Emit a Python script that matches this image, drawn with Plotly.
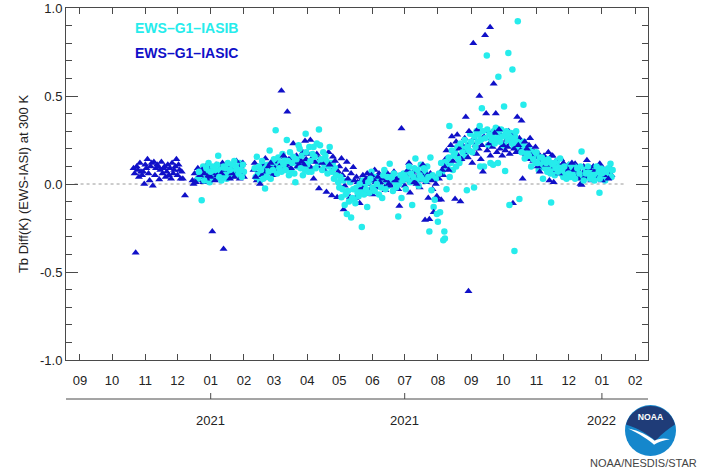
import base64

import pandas as pd
import plotly.graph_objects as go

# Days are counted from 1 September 2020
EPOCH = "2020-09-01"

# EWS-G1 minus IASI-C brightness-temperature difference (K) at 300 K
iasic_day = [
    50, 51, 52, 53, 54, 55, 56, 57, 58, 59, 60, 61, 62, 63, 64, 65, 66, 67, 68, 69,
    70, 71, 72, 73, 74, 75, 76, 77, 78, 79, 80, 81, 82, 83, 84, 85, 86, 87, 88, 89,
    90, 91, 92, 93, 94, 95, 96, 98,
    105, 106, 107, 108, 109, 110, 111, 112, 113, 114, 115, 116, 117, 118, 119, 120,
    121, 122, 123.5, 124, 125, 126, 127, 128, 129, 130, 131, 132, 133, 134, 135, 136,
    137, 138, 139, 140, 141, 142, 143, 144, 145, 146, 147, 148, 149, 150, 151, 152, 153,
    162, 163, 164, 165, 166, 167, 168, 169, 170, 171, 172, 173, 174, 175, 176, 177,
    178, 179, 180, 181, 182, 183, 184, 185, 186, 187, 188, 189, 190, 191, 192, 193,
    193.5, 194, 195, 196, 197, 198, 199, 200, 201, 202, 203, 204, 205, 206, 207, 208,
    209, 210, 211, 212, 213, 214, 215, 216, 217, 218, 219, 220, 221, 222, 223, 224,
    226, 228, 230, 232, 233, 235, 236, 237, 238, 240, 241, 242, 244, 245, 246, 247,
    248, 249, 250, 252, 253, 255, 256, 257, 258, 259, 261,
    262, 263, 264, 265, 266, 267, 267.5, 268, 269, 270, 271, 272, 273, 274, 275, 276,
    277, 278, 279, 280, 281, 282, 283, 284, 285, 286, 287, 288, 289, 290, 291, 292,
    293, 294, 295, 296, 297, 298, 299, 300, 301, 302, 303, 304, 305, 306, 307, 308,
    309, 310, 311, 312, 313, 314, 315, 316, 317, 318, 319, 320, 321, 322, 323, 324,
    325, 326, 327, 328, 329, 330, 331, 332, 333, 334, 335, 336, 337, 338, 339, 340, 341,
    342, 343, 344, 345, 346, 347, 348, 349, 350, 351, 352, 353, 354, 355, 356, 357,
    358, 359, 360, 361, 362, 362.5, 363, 364, 365, 366, 367, 368, 369, 370, 371, 372,
    372.7, 373, 374, 375, 376, 377, 378, 379, 380, 381, 382, 382.7, 383, 384, 385, 386,
    387, 388, 389, 390, 391, 392, 393, 394, 395, 396, 397, 398, 399, 400, 401, 402,
    403, 404, 405, 406, 407, 408, 409, 410, 411, 412, 413, 414, 415, 416, 417, 418,
    419, 420, 421, 422, 423, 424, 425,
    426, 427, 428, 429, 430, 431, 432, 433, 434, 435, 436, 437, 438, 439, 440, 441,
    442, 443, 444, 445, 446, 447, 448, 449, 450, 451, 452, 453, 454, 455, 456, 457,
    458, 459, 460, 461, 462, 463, 464, 465, 466, 467, 468, 469, 470, 471, 472, 473,
    474, 475, 476, 477, 478, 479, 480, 481, 482, 483, 484, 485, 486, 487, 488, 489,
    490, 491, 492, 493, 494, 495, 496,
]
iasic_tb = [
    0.09, 0.06, -0.39, 0.10, 0.08, 0.04, 0.12, 0.07, 0.05, 0.07, 0.00, 0.11, 0.09, 0.14, 0.06, 0.02, 0.10, 0.12, -0.01, 0.125,
    0.05, 0.09, 0.11, 0.10, 0.025, 0.08, 0.125, 0.06, 0.09, 0.10, 0.04, 0.07, 0.11, 0.05, 0.09, 0.03, 0.12, 0.06, 0.08, 0.10,
    0.14, 0.05, 0.11, 0.08, 0.03, 0.07, 0.03, -0.065,
    0.02, 0.00, 0.06, 0.01, 0.03, 0.09, 0.02, 0.05, 0.04, 0.08, 0.01, 0.06, 0.10, 0.03, 0.07, 0.05,
    0.09, 0.04, -0.27, 0.06, 0.08, 0.02, 0.11, 0.05, 0.07, 0.03, 0.09, 0.06, 0.12, -0.37, 0.04, 0.08,
    0.05, 0.10, 0.07, 0.03, 0.09, 0.06, 0.11, 0.04, 0.08, 0.13, 0.05, 0.07, 0.03, 0.10, 0.06, 0.12, 0.04,
    0.08, 0.12, 0.04, 0.02, 0.10, 0.06, 0.00, 0.09, 0.05, 0.11, 0.07, 0.145, 0.04, 0.07, 0.10, 0.06,
    0.12, 0.09, 0.05, 0.08, 0.09, 0.11, 0.08, 0.13, 0.10, 0.07, 0.53, 0.12, 0.16, 0.15, 0.10, 0.13,
    0.41, 0.11, 0.14, 0.12, 0.09, 0.15, 0.23, 0.12, 0.125, 0.16, 0.10, 0.14, 0.105, 0.13, 0.125, 0.18,
    0.11, 0.245, 0.14, 0.12, 0.17, 0.10, 0.25, 0.09, 0.15, 0.03, 0.125, 0.16, 0.17, 0.10, -0.025, 0.14,
    0.12, 0.08, -0.045, 0.18, 0.11, -0.065, 0.155, 0.09, 0.13, -0.075, 0.07, 0.10, 0.145, 0.05, -0.145, -0.01,
    0.08, 0.125, 0.03, -0.075, 0.06, 0.095, 0.02, -0.08, 0.04, 0.01, -0.11,
    0.02, -0.02, 0.05, 0.01, -0.04, 0.03, -0.055, 0.06, 0.00, 0.04, -0.03, 0.05, -0.06, 0.02, 0.08, 0.01,
    -0.02, 0.04, 0.06, 0.01, -0.01, 0.03, 0.05, -0.02, -0.035, 0.02, 0.06, 0.00, 0.03, -0.01, 0.05, 0.04,
    0.07, 0.02, -0.02, 0.03, -0.03, -0.125, 0.01, 0.315, 0.04, 0.02, -0.01, 0.05, 0.03, 0.08, 0.12, -0.05,
    0.02, 0.06, 0.04, 0.01, 0.07, 0.00, 0.03, 0.05, -0.02, 0.06, 0.02, 0.11, 0.04, -0.205, 0.01, 0.05,
    -0.08, -0.20, 0.06, 0.02, -0.03, -0.16, 0.04, 0.00, -0.07, -0.09, 0.03, 0.06, -0.09, 0.08, 0.05, 0.10, 0.14,
    0.19, 0.12, 0.08, 0.135, 0.22, 0.27, 0.13, 0.17, -0.085, 0.24, 0.28, 0.16, 0.20, -0.10, 0.14, 0.22,
    0.18, 0.26, 0.38, 0.21, 0.15, -0.61, 0.30, 0.19, 0.24, 0.12, 0.80, 0.26, 0.22, 0.17, 0.31, 0.20,
    0.50, 0.25, 0.14, 0.22, 0.07, 0.27, 0.845, 0.40, 0.19, 0.30, 0.23, 0.89, 0.16, 0.26, 0.21, 0.57,
    0.29, 0.40, 0.18, 0.24, 0.31, 0.20, 0.27, 0.16, 0.22, 0.28, 0.19, 0.25, 0.21, 0.30, 0.17, 0.23,
    0.27, -0.11, 0.20, 0.25, 0.18, 0.38, 0.22, 0.26, 0.19, 0.36, 0.03, 0.21, 0.24, 0.17, 0.20, 0.14,
    0.22, 0.26, 0.16, 0.19, 0.13, 0.18, 0.21,
    0.15, 0.10, 0.17, 0.07, 0.12, 0.14, 0.09, 0.16, 0.09, 0.11, 0.13, 0.18, 0.02, 0.12, 0.16, 0.16,
    0.01, 0.10, 0.13, 0.08, 0.11, 0.06, 0.07, 0.14, 0.09, 0.12, 0.05, 0.10, 0.06, 0.08, 0.11, 0.04,
    0.09, 0.12, 0.06, 0.08, 0.115, 0.05, 0.09, 0.03, 0.07, 0.00, -0.005, 0.06, 0.10, 0.04, 0.08, 0.135,
    0.05, 0.09, 0.05, 0.02, 0.07, 0.10, 0.04, 0.08, 0.06, 0.03, 0.04, 0.115, 0.07, 0.02, 0.09, 0.05,
    0.08, 0.07, 0.04, 0.03, 0.06, 0.09, 0.05,
]

# EWS-G1 minus IASI-B brightness-temperature difference (K) at 300 K
iasib_day = [
    110, 111, 112, 113.6, 115, 116, 117, 118, 119, 120, 121, 122, 123, 124, 125, 126,
    127, 128, 129, 130, 131, 132, 133, 134, 135, 136, 137, 138, 139, 140, 141, 142,
    143, 144, 145, 146, 147, 148, 149, 150, 151, 152, 153,
    163, 164, 165, 166, 167, 168, 169, 170, 171, 172, 172.7, 173, 174, 175, 176, 177,
    178, 179, 180, 181, 182.6, 183, 184, 185, 186, 187, 188, 189, 190, 191, 192, 193,
    194, 195, 196, 197, 198, 199, 200, 201, 202, 203, 204, 205, 206, 207, 208, 209,
    210, 210.6, 211, 212, 213, 214, 215, 216, 217, 218, 219, 220, 221, 222, 223, 224,
    225, 226, 227, 228, 229, 230, 231, 232, 233, 234, 235, 236, 237, 238, 239, 240,
    241, 242, 243, 244, 245, 246, 247, 248, 249, 250, 251, 252, 253, 254, 255, 256,
    257, 258, 259, 260, 261,
    262, 263, 264, 265, 266, 267, 268, 269, 270, 271, 272, 273, 274, 275, 276, 277,
    278, 279, 280, 281, 282, 283, 284, 285, 286, 287, 288, 289, 290, 291, 292, 293,
    294, 295, 296, 297, 298, 299, 300, 301, 302, 303, 304, 305, 306, 307, 308, 309,
    310, 311, 312, 313, 314, 315, 316, 317, 318, 319, 320, 321, 322, 323, 324, 325,
    326, 327, 328, 329, 330, 331, 332, 333, 334, 335, 336, 337, 338, 339, 340, 340.5, 341,
    342, 343, 344, 344.7, 345, 346, 347, 348, 349, 350, 351, 352, 353, 354, 355, 356,
    357, 358, 359, 360, 361, 362, 363, 364, 365, 366, 367.7, 368, 369, 370, 371, 372,
    373, 373.5, 374, 375, 376, 377, 378, 379.6, 380, 381, 382, 383, 384, 385, 385.5, 386,
    387, 388, 389, 390, 390.4, 391, 392, 393, 394, 395, 395.7, 396, 396.7, 397, 398, 399,
    399.7, 400.7, 401, 402, 403, 403.5, 404, 405, 405.4, 406, 407, 408, 408.5, 409, 410, 411,
    412, 413, 413.8, 414, 415, 416, 417, 418, 419, 420, 421, 422, 423, 424, 425,
    426, 427, 428, 429, 430, 431, 432, 433, 434, 435, 436, 437, 438, 439, 439.6, 440,
    441, 442, 443, 444, 445, 446, 447, 448, 449, 450, 451, 452, 453, 454, 455, 456,
    457, 458, 459, 460, 461, 462, 463, 464, 465, 466, 467, 468, 469, 470, 471, 472,
    473, 474, 475, 476, 477, 478, 479, 480, 481, 482, 483, 484, 484.7, 485, 486, 487,
    488, 489, 490, 491, 492, 493, 494, 495, 496, 497,
]
iasib_tb = [
    0.03, 0.07, 0.05, -0.093, 0.10, 0.02, 0.06, 0.09, 0.04, 0.12, 0.01, 0.07, 0.05, 0.10, 0.03, 0.08,
    0.06, 0.11, 0.16, 0.04, 0.08, 0.02, 0.07, 0.10, 0.05, 0.09, 0.03, 0.12, 0.06, 0.08, 0.04, 0.11,
    0.07, 0.13, 0.05, 0.09, 0.10, 0.06, 0.12, 0.08, 0.04, 0.11, 0.07,
    0.09, 0.04, 0.155, 0.06, 0.10, 0.02, 0.08, 0.13, 0.03, 0.05, -0.025, 0.09, 0.04, 0.11, 0.07, 0.19,
    0.03, 0.12, 0.08, 0.14, 0.305, 0.10, 0.06, 0.15, 0.09, 0.12, 0.07, 0.17, 0.11, 0.135, 0.08, 0.25,
    0.13, 0.05, 0.18, 0.08, 0.12, 0.155, 0.06, 0.01, 0.14, 0.10, 0.22, 0.20, 0.09, 0.16, 0.05, 0.12,
    0.08, 0.285, 0.18, 0.11, 0.07, 0.21, 0.13, 0.07, 0.17, 0.21, 0.155, 0.09, 0.23, 0.12, 0.31, 0.22,
    0.14, 0.08, 0.18, 0.11, 0.16, 0.13, 0.06, 0.10, 0.21, 0.12, 0.07, 0.12, 0.03, 0.09, 0.05, 0.05,
    0.01, -0.02, 0.04, -0.075, -0.03, 0.02, -0.12, -0.06, -0.17, -0.04, -0.10, 0.01, -0.19, -0.08, -0.03, -0.09,
    -0.11, -0.02, -0.05, -0.07, 0.00,
    -0.04, -0.245, 0.02, -0.06, 0.00, -0.03, -0.13, 0.01, -0.05, 0.03, 0.07, -0.02, 0.02, -0.04, 0.04, 0.00,
    0.03, -0.06, 0.02, -0.02, -0.08, 0.05, 0.08, -0.03, 0.01, 0.04, -0.01, 0.115, 0.02, 0.04, -0.04, 0.06,
    0.01, -0.02, 0.03, -0.185, 0.00, 0.05, -0.08, 0.02, 0.06, 0.05, -0.03, 0.03, 0.07, 0.10, 0.01, 0.06,
    -0.12, 0.04, 0.09, 0.145, 0.02, 0.08, -0.01, 0.05, 0.11, 0.03, 0.06, 0.09, 0.07, 0.02, 0.10, 0.04,
    -0.27, 0.15, -0.035, 0.05, -0.13, -0.09, 0.03, -0.17, -0.215, 0.06, -0.16, 0.12, 0.07, -0.32, -0.27, -0.31, 0.125,
    -0.03, 0.09, 0.15, 0.33, 0.04, 0.12, 0.19, 0.08, 0.16, 0.18, 0.10, 0.21, 0.14, 0.12, 0.23, 0.145,
    0.18, 0.20, 0.25, 0.16, -0.035, 0.22, 0.19, 0.285, 0.24, 0.18, -0.02, 0.27, 0.21, 0.30, 0.24, 0.28,
    0.33, 0.10, 0.25, 0.43, 0.30, 0.10, 0.26, 0.73, 0.31, 0.22, 0.28, 0.12, 0.25, 0.27, 0.11, 0.30,
    0.23, 0.32, 0.26, 0.12, 0.61, 0.29, 0.24, 0.31, 0.27, 0.22, 0.44, 0.22, 0.074, 0.28, 0.30, 0.25,
    0.745, -0.12, 0.27, 0.29, 0.23, 0.65, 0.26, 0.21, -0.38, 0.27, 0.30, 0.24, 0.925, 0.20, -0.085, 0.23,
    0.18, 0.22, 0.45, 0.24, 0.145, 0.20, 0.17, 0.21, 0.16, 0.19, 0.10, 0.18, 0.14, 0.17, 0.12,
    0.18, 0.12, 0.08, 0.15, 0.11, 0.15, 0.03, 0.13, 0.09, 0.12, 0.07, 0.14, 0.10, 0.06, -0.105, 0.12,
    0.08, 0.11, 0.05, 0.09, 0.13, 0.07, 0.10, 0.145, 0.06, 0.08, 0.04, 0.10, 0.07, 0.03, 0.09, 0.06,
    0.11, 0.04, 0.08, 0.05, 0.10, 0.03, 0.07, 0.09, 0.04, 0.06, 0.10, 0.185, 0.05, 0.02, 0.08, 0.06,
    0.04, 0.10, 0.07, 0.03, 0.09, 0.05, 0.08, 0.02, 0.06, 0.10, 0.04, 0.07, -0.05, 0.03, 0.09, 0.06,
    0.04, 0.08, 0.02, 0.07, 0.05, 0.09, 0.06, 0.115, 0.04, 0.08,
]

# Axis labelling
y_tick_vals = [-1.0, -0.5, 0.0, 0.5, 1.0]
y_tick_text = ["-1.0", "-0.5", "0.0", "0.5", "1.0"]
y_minor_vals = [-0.9, -0.8, -0.7, -0.6, -0.4, -0.3, -0.2, -0.1,
                0.1, 0.2, 0.3, 0.4, 0.6, 0.7, 0.8, 0.9]
year_tick_dates = ["2021-01-01", "2021-07-01", "2022-01-01"]
year_tick_text = ["2021", "2021", "2022"]

series_names = ["EWS–G1–IASIB", "EWS–G1–IASIC"]
series_colors = ["rgb(38,236,236)", "rgb(16,16,200)"]

FONT = "Liberation Sans, Arial, Helvetica, sans-serif"
FRAME = "#4a4a4a"
TEXT = "#222222"

W, H = 701, 472
M_L, M_R, M_T, M_B = 66, 53, 8, 112
PW, PH = W - M_L - M_R, H - M_T - M_B


def px_x(px):
    """Pixel column -> paper x."""
    return (px - M_L) / PW


def px_y(py):
    """Pixel row -> paper y."""
    return (H - M_B - py) / PH


def to_dates(days):
    return pd.Timestamp(EPOCH) + pd.to_timedelta(days, unit="D")


fig = go.Figure()
# The two instruments are drawn in alternating passes so neither set of markers
# hides the other where they overlap.
styles = [
    (iasic_day, iasic_tb, series_names[1], "triangle-up", 7, series_colors[1]),
    (iasib_day, iasib_tb, series_names[0], "circle", 6.5, series_colors[0]),
]
for part in (0, 1):
    for days, vals, name, sym, size, col in styles:
        fig.add_trace(go.Scatter(
            x=to_dates(days[part::2]), y=vals[part::2], mode="markers", name=name,
            marker=dict(symbol=sym, size=size, color=col, line=dict(width=0)),
        ))

# dotted zero reference
fig.add_shape(type="line", xref="x", yref="y", x0="2020-08-27", x1="2022-01-22", y0=0, y1=0,
              line=dict(color="#9a9a9a", width=1, dash="dot"), layer="below")

# year axis beneath the month axis
y_line = px_y(399)
fig.add_shape(type="line", xref="paper", yref="paper", x0=0, x1=1, y0=y_line, y1=y_line,
              line=dict(color=FRAME, width=1))
for d, t in zip(year_tick_dates, year_tick_text):
    fig.add_shape(type="line", xref="x", yref="paper", x0=d, x1=d, y0=y_line, y1=px_y(393),
                  line=dict(color=FRAME, width=1))
    fig.add_annotation(x=d, xref="x", y=px_y(420), yref="paper", text=t, showarrow=False,
                       xanchor="center", yanchor="middle", font=dict(family=FONT, size=13, color=TEXT))

# series labels
for i, (name, col) in enumerate(zip(series_names, series_colors)):
    fig.add_annotation(x=px_x(133), y=px_y(28 + 25 * i), xref="paper", yref="paper", text=f"<b>{name}</b>",
                       showarrow=False, xanchor="left", yanchor="middle",
                       font=dict(family=FONT, size=14, color=col))

# NOAA emblem
logo_svg = """<svg xmlns='http://www.w3.org/2000/svg' viewBox='0 0 100 100'>
<circle cx='50' cy='50' r='50' fill='#1587cc'/>
<path d='M 2,38 A 50 50 0 0 1 98,38 C 86,46 72,56 60,70 C 48,60 28,46 2,38 Z' fill='#1f3c78'/>
<path d='M 6,46 C 28,56 46,68 57,78 C 64,73 74,69 88,67 C 74,64 65,66 58,70 C 46,60 28,50 6,46 Z' fill='#ffffff'/>
<text x='50' y='29' text-anchor='middle' font-family='Liberation Sans, Arial, sans-serif' font-weight='bold' font-size='17' fill='#ffffff'>NOAA</text>
</svg>"""
logo_uri = "data:image/svg+xml;base64," + base64.b64encode(logo_svg.encode()).decode()
fig.add_layout_image(source=logo_uri, xref="paper", yref="paper", x=px_x(625), y=px_y(405),
                     sizex=51 / PW, sizey=51 / PH, xanchor="left", yanchor="top",
                     sizing="stretch", layer="above")
fig.add_annotation(x=px_x(699), y=px_y(463), xref="paper", yref="paper", text="NOAA/NESDIS/STAR",
                   showarrow=False, xanchor="right", yanchor="middle",
                   font=dict(family=FONT, size=11, color="#444444"))

fig.update_xaxes(
    range=["2020-08-19", "2022-02-13"], type="date",
    tick0="2020-09-01", dtick="M1", tickformat="%m",
    ticks="inside", ticklen=6, tickcolor=FRAME, tickwidth=1,
    showline=True, linecolor=FRAME, linewidth=1, mirror="ticks",
    showgrid=False, zeroline=False, ticklabelstandoff=8, automargin=False,
    tickfont=dict(family=FONT, size=13, color=TEXT),
)
fig.update_yaxes(
    range=[-1.0, 1.0], tickmode="array", tickvals=y_tick_vals, ticktext=y_tick_text,
    ticks="inside", ticklen=12, tickcolor=FRAME, tickwidth=1,
    minor=dict(tickmode="array", tickvals=y_minor_vals, ticks="inside", ticklen=6,
               tickcolor=FRAME, tickwidth=1, showgrid=False),
    showline=True, linecolor=FRAME, linewidth=1, mirror="ticks",
    showgrid=False, zeroline=False, automargin=False,
    tickfont=dict(family=FONT, size=13, color=TEXT),
    title=dict(text="Tb Diff(K) (EWS-IASI) at 300 K", standoff=8,
               font=dict(family=FONT, size=13, color=TEXT)),
)
fig.update_layout(
    width=W, height=H, margin=dict(l=M_L, r=M_R, t=M_T, b=M_B, autoexpand=False),
    paper_bgcolor="white", plot_bgcolor="white", showlegend=False,
    font=dict(family=FONT, color=TEXT),
)
fig.write_html("out.html")
